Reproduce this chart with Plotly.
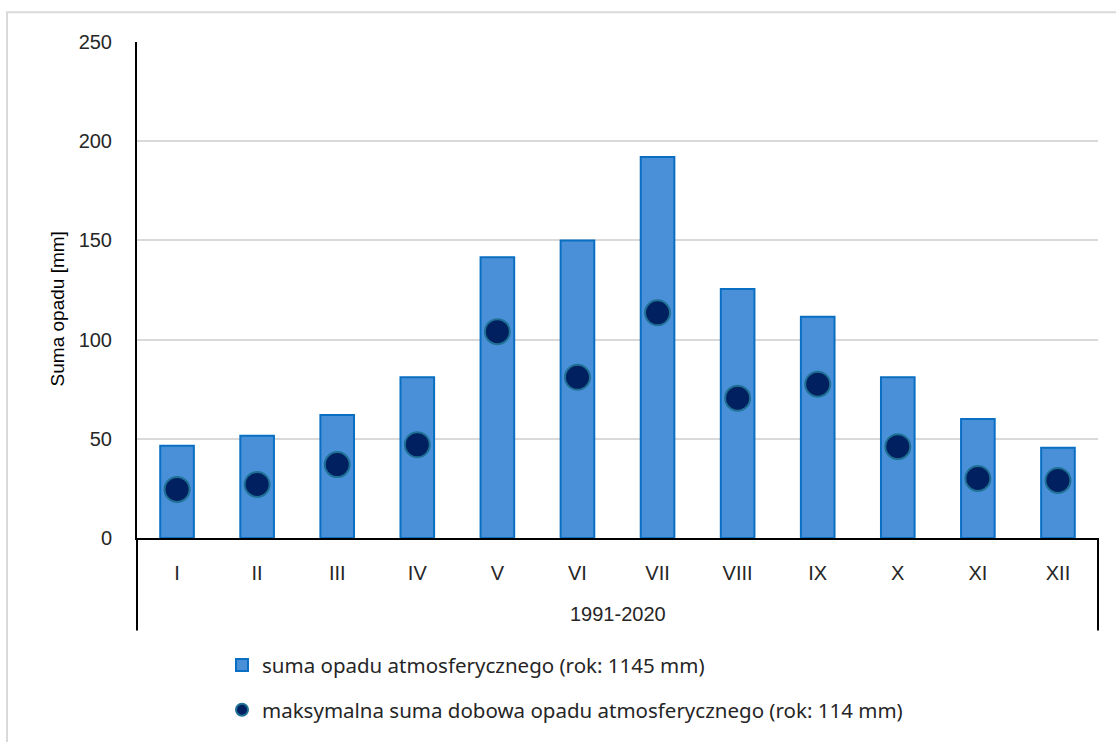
import plotly.graph_objects as go

months = ["I", "II", "III", "IV", "V", "VI", "VII", "VIII", "IX", "X", "XI", "XII"]
monthly_sum = [46.5, 51.5, 62, 81, 141.5, 150, 192, 125.5, 111.5, 81, 60, 45.5]
daily_max = [24.5, 27, 37, 47, 104, 81, 113.5, 70.5, 77.5, 46, 30, 29]
period_label = "1991-2020"
y_ticks = [0, 50, 100, 150, 200, 250]
name_sum = "suma opadu atmosferycznego (rok: 1145 mm)"
name_max = "maksymalna suma dobowa opadu atmosferycznego (rok: 114 mm)"

W, H = 1116, 742
L, R, T, B = 137, 18, 42, 201
pw, ph = W - L - R, H - T - B

def px(x):
    return (x - L) / pw

def py(y):
    return (H - B - y) / ph

fig = go.Figure()
fig.add_trace(go.Bar(
    x=months, y=monthly_sum, name=name_sum, width=0.42,
    marker=dict(color="#4a90d9", line=dict(color="#0a6fc2", width=2)),
    legend="legend",
))
fig.add_trace(go.Scatter(
    x=months, y=daily_max, name=name_max, mode="markers",
    marker=dict(size=25, color="#002060", line=dict(color="#1f7196", width=2)),
    legend="legend2",
))

tick_font = dict(family="Liberation Sans, Arial, sans-serif", size=20, color="#262626")
leg_font = dict(family="Noto Sans, Open Sans, sans-serif", size=20.5, color="#262626")

fig.update_layout(
    width=W, height=H,
    margin=dict(l=L, r=R, t=T, b=B),
    paper_bgcolor="white", plot_bgcolor="white",
    bargap=0.58,
    xaxis=dict(
        range=[-0.5, len(months) - 0.5],
        showline=True, linecolor="#000000", linewidth=2,
        showgrid=False, ticks="", tickfont=tick_font, ticklabelstandoff=16,
        fixedrange=True,
    ),
    yaxis=dict(
        range=[0, 250], tickvals=y_ticks, showgrid=True, gridcolor="#d9d9d9", gridwidth=1.5,
        showline=True, linecolor="#000000", linewidth=2, zeroline=False,
        tickfont=tick_font, ticks="", ticklabelstandoff=19,
    ),
    legend=dict(
        x=px(222), y=py(669), xanchor="left", yanchor="middle",
        font=leg_font, itemwidth=30, bgcolor="rgba(0,0,0,0)",
    ),
    legend2=dict(
        x=px(222), y=py(714), xanchor="left", yanchor="middle",
        font=leg_font, itemwidth=30, itemsizing="constant", bgcolor="rgba(0,0,0,0)",
    ),
    showlegend=True,
    annotations=[
        dict(text="Suma opadu [mm]", textangle=-90, xref="paper", yref="paper",
             x=px(57), y=py(311), xanchor="center", yanchor="middle", showarrow=False,
             font=dict(family="Liberation Sans, Arial, sans-serif", size=19, color="#000000")),
        dict(text=period_label, xref="paper", yref="paper",
             x=0.5, y=py(617), xanchor="center", yanchor="middle", showarrow=False,
             font=tick_font),
    ],
    shapes=[
        dict(type="line", xref="paper", yref="paper", x0=0, x1=0, y0=0, y1=py(634),
             line=dict(color="#000000", width=2)),
        dict(type="line", xref="paper", yref="paper", x0=1, x1=1, y0=0, y1=py(634),
             line=dict(color="#000000", width=2)),
        dict(type="rect", xref="paper", yref="paper", x0=px(7), x1=px(1130),
             y0=py(760), y1=py(12), line=dict(color="#d9d9d9", width=2), layer="below"),
    ],
)

fig.write_html("out.html")
